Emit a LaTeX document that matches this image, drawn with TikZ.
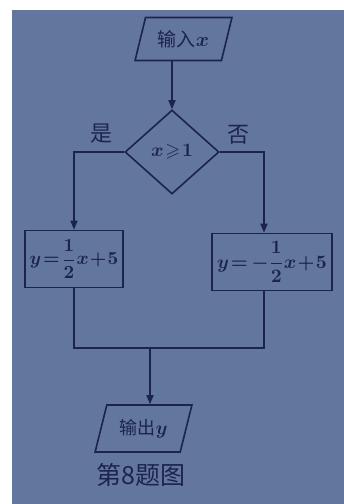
\documentclass[tikz,border=0pt]{standalone}
\usepackage{graphicx}
\usepackage{amsmath,amssymb}
\usepackage{fontspec}
\newfontfamily\cjk{Noto Sans CJK SC}
\usetikzlibrary{shapes.geometric,arrows.meta}
\definecolor{bgc}{RGB}{98,118,158}
\definecolor{ink}{RGB}{28,36,78}
\tikzset{
  arr/.style={-{Triangle[length=9pt,width=7pt]}},
  ln/.style={draw=ink,line width=1.6pt},
  io/.style={trapezium,trapezium left angle=68,trapezium right angle=112,
    trapezium stretches=true,draw=ink,line width=1.6pt,text=ink,inner sep=0pt},
  procbox/.style={rectangle,draw=ink,line width=1.6pt,text=ink,inner sep=0pt},
  decision/.style={diamond,draw=ink,line width=1.6pt,text=ink,inner sep=0pt},
  lbl/.style={text=ink,inner sep=0pt,font=\cjk\fontsize{22}{22}\selectfont}
}
\begin{document}
\begin{tikzpicture}[x=1pt,y=-1pt]
\useasboundingbox (0,0) rectangle (344,504);
\fill[white] (0,0) rectangle (344,504);
\fill[bgc] (12,10) rectangle (344,504);
\boldmath
\thickmuskip=1.5mu \medmuskip=1mu
\node[io,minimum width=97pt,minimum height=43pt] (in) at (183.5,39) {{\cjk\fontsize{19}{19}\selectfont 输入}\scalebox{2}{$x$}};
\node[decision,minimum width=94pt,minimum height=84pt] (dec) at (172,152) {\scalebox{1.9}{$x\geqslant 1$}};
\node[lbl] (yes) at (101,134) {是};
\node[lbl] (no) at (238,135) {否};
\node[procbox,minimum width=98pt,minimum height=57pt] (lbox) at (74,259) {\scalebox{1.85}{$y=\dfrac{1}{2}x+5$}};
\node[procbox,minimum width=120pt,minimum height=57pt] (rbox) at (272,262) {\scalebox{1.9}{$y=\;-\dfrac{1}{2}x+5$}};
\coordinate (j) at (150,348);
\node[io,minimum width=97pt,minimum height=47pt] (out) at (143.5,428.5) {{\cjk\fontsize{18}{18}\selectfont 输出}\scalebox{1.9}{$y$}};
\node[text=ink,inner sep=0pt,font=\cjk\fontsize{25}{25}\selectfont] (cap) at (141,475) {第8题图};
\draw[ln,arr] (dec.north |- in.south) -- (dec.north);
\draw[ln,arr] (dec.west) -| (lbox.north);
\draw[ln,arr] (dec.east) -| ([xshift=-8pt]rbox.north);
\draw[ln] (lbox.south) |- ([xshift=-8pt]rbox.south |- j) -- ([xshift=-8pt]rbox.south);
\draw[ln,arr] (j) -- (j |- out.north);
\end{tikzpicture}
\end{document}
